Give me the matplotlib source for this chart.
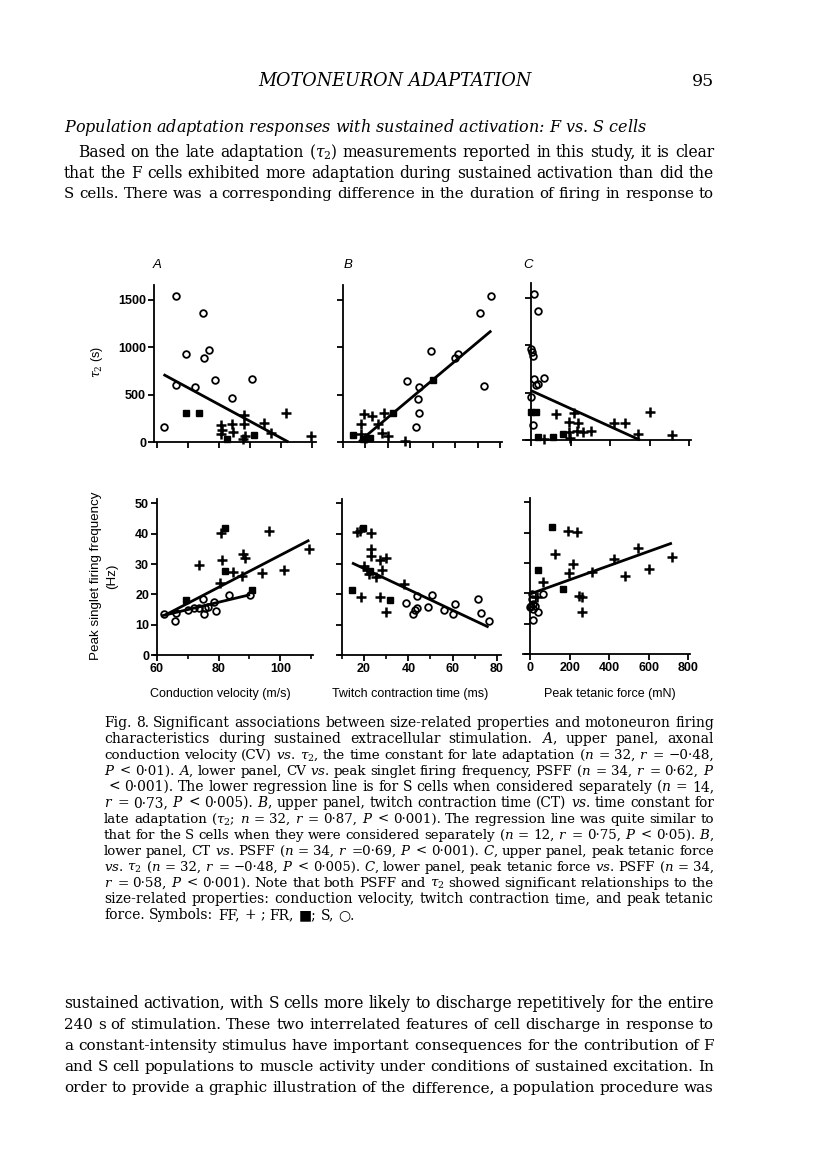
import matplotlib
matplotlib.use("Agg")
import matplotlib.pyplot as plt

W, H = 816, 1169
plt.rcParams['font.family'] = ['DejaVu Serif', 'DejaVu Sans']
plt.rcParams['mathtext.fontset'] = 'dejavuserif'

# ---- data ----
# upper row: tau2 (s); lower row: peak singlet firing frequency (Hz)
# FF = crosses, FR = filled squares, S = open circles

# A upper: conduction velocity (m/s) vs tau2
a_up_ff_x = [80.5, 84.1, 80.5, 84.5, 88.1, 88.2, 88.5, 94.5, 96.7, 101.6, 109.8, 81.1, 87.9]
a_up_ff_y = [176, 191, 88, 106, 286, 194, 60, 205, 95, 307, 67, 124, 35]
a_up_fr_x = [69.4, 73.7, 82.5, 91.2]
a_up_fr_y = [304, 304, 35, 74]
a_up_s_x = [62.1, 66.2, 66.2, 69.4, 72.2, 75.0, 75.3, 76.9, 78.6, 84.1, 90.8]
a_up_s_y = [159, 1546, 597, 925, 582, 1359, 890, 967, 650, 466, 664]
a_up_fit_x = [62.1, 102.4]
a_up_fit_y = [713, 0]

# B upper: twitch contraction time (ms) vs tau2
b_up_ff_x = [19.3, 23.1, 28.4, 18.2, 25.7, 18.1, 27.2, 29.9, 37.6, 20.4]
b_up_ff_y = [293, 275, 304, 187, 187, 81, 99, 64, 11, 46]
b_up_fr_x = [14.5, 32.1, 50.3, 21.9, 19.0]
b_up_fr_y = [71, 304, 660, 39, 28]
b_up_s_x = [76.1, 71.2, 49.1, 60.0, 61.2, 38.7, 44.0, 43.6, 44.0, 42.4, 72.7]
b_up_s_y = [1546, 1362, 963, 886, 925, 646, 582, 459, 304, 159, 593]
b_up_fit_x = [17.2, 76.1]
b_up_fit_y = [4, 1175]

# C upper: peak tetanic force (mN) vs tau2
c_up_ff_x = [128, 218, 193, 240, 235, 262, 304, 190, 198, 64, 418, 475, 600, 544, 716]
c_up_ff_y = [275, 282, 194, 180, 99, 81, 99, 81, 21, 11, 177, 180, 300, 64, 56]
c_up_fr_x = [0, 27, 35, 109, 161]
c_up_fr_y = [300, 300, 35, 35, 64]
c_up_s_x = [15, 37, 0, 5, 10, 15, 64, 24, 35, 2, 8]
c_up_s_y = [1546, 1359, 964, 928, 883, 646, 657, 579, 593, 459, 159]
c_up_fit_x = [0, 551]
c_up_fit_y = [522, 0]

# A lower: conduction velocity vs PSFF
a_lo_ff_x = [73.5, 80.8, 81.2, 80.5, 84.8, 87.8, 88.7, 87.6, 94.1, 96.2, 101.3, 109.4]
a_lo_ff_y = [29.6, 40.1, 31.3, 23.6, 27.3, 33.3, 31.9, 26.1, 26.9, 41.0, 28.0, 35.1]
a_lo_fr_x = [69.3, 82.1, 82.1, 90.8]
a_lo_fr_y = [18.1, 42.0, 27.8, 21.4]
a_lo_s_x = [62.2, 65.8, 66.3, 70.1, 71.9, 73.6, 74.9, 75.1, 75.7, 76.6, 78.4, 79.2, 83.5, 90.2]
a_lo_s_y = [13.4, 11.1, 14.0, 14.8, 15.6, 15.4, 18.6, 13.5, 15.5, 15.9, 17.4, 14.5, 19.7, 19.7]
a_lo_fit_x = [62.5, 109.4]
a_lo_fit_y = [13.1, 37.9]
a_lo_sfit_x = [61.4, 90.2]
a_lo_sfit_y = [12.9, 19.9]

# B lower: twitch contraction time vs PSFF
b_lo_ff_x = [16.8, 18.3, 23.3, 23.3, 23.2, 27.1, 30.1, 19.8, 28.1, 22.1, 25.6, 37.9, 18.6, 27.4, 29.8, 21.4]
b_lo_ff_y = [40.5, 41.0, 40.2, 35.0, 32.6, 31.2, 32.1, 29.3, 27.9, 26.6, 25.8, 23.4, 19.3, 19.0, 14.1, 27.9]
b_lo_fr_x = [14.7, 19.5, 31.9, 22.9]
b_lo_fr_y = [21.4, 41.8, 18.2, 27.7]
b_lo_s_x = [39.1, 43.9, 42.1, 43.2, 43.9, 48.9, 50.7, 56.2, 60.2, 61.2, 71.4, 72.9, 76.2]
b_lo_s_y = [17.3, 19.6, 13.6, 14.7, 15.4, 15.7, 19.7, 14.8, 13.6, 16.8, 18.6, 13.9, 11.1]
b_lo_fit_x = [14.6, 76.2]
b_lo_fit_y = [30.4, 9.2]

# C lower: peak tetanic force vs PSFF
c_lo_ff_x = [194, 240, 127, 219, 199, 64, 312, 425, 544, 478, 603, 717, 248, 265, 263, 37]
c_lo_ff_y = [40.7, 40.2, 33.0, 29.6, 26.7, 23.6, 27.2, 31.2, 35.0, 25.8, 27.9, 32.0, 19.2, 18.9, 14.0, 18.7]
c_lo_fr_x = [113, 39, 169]
c_lo_fr_y = [41.8, 27.6, 21.6]
c_lo_s_x = [8, 68, 3, 0, 17, 25, 42, 17, 8, 17]
c_lo_s_y = [19.8, 19.8, 16.0, 15.4, 16.5, 15.7, 14.0, 11.3, 18.2, 14.9]
c_lo_fit_x = [0, 717]
c_lo_fit_y = [19.8, 36.6]

tau_ticks = [0, 500, 1000, 1500]
freq_ticks = [0, 10, 20, 30, 40, 50]

# ---- page text ----
body_top = [
    "Based on the late adaptation ($\\tau_2$) measurements reported in this study, it is clear",
    "that the F cells exhibited more adaptation during sustained activation than did the",
    "S cells. There was a corresponding difference in the duration of firing in response to",
]
body_bottom = [
    "sustained activation, with S cells more likely to discharge repetitively for the entire",
    "240 s of stimulation. These two interrelated features of cell discharge in response to",
    "a constant-intensity stimulus have important consequences for the contribution of F",
    "and S cell populations to muscle activity under conditions of sustained excitation. In",
    "order to provide a graphic illustration of the difference, a population procedure was",
]
caption = [
    "Fig. 8. Significant associations between size-related properties and motoneuron firing",
    "characteristics during sustained extracellular stimulation. $\\mathit{A}$, upper panel, axonal",
    "conduction velocity (CV) $\\mathit{vs}$. $\\tau_2$, the time constant for late adaptation ($n$ = 32, $r$ = \u22120\u00b748,",
    "$P$ < 0\u00b701). $\\mathit{A}$, lower panel, CV $\\mathit{vs}$. peak singlet firing frequency, PSFF ($n$ = 34, $r$ = 0\u00b762, $P$",
    "< 0\u00b7001). The lower regression line is for S cells when considered separately ($n$ = 14,",
    "$r$ = 0\u00b773, $P$ < 0\u00b7005). $\\mathit{B}$, upper panel, twitch contraction time (CT) $\\mathit{vs}$. time constant for",
    "late adaptation ($\\tau_2$; $n$ = 32, $r$ = 0\u00b787, $P$ < 0\u00b7001). The regression line was quite similar to",
    "that for the S cells when they were considered separately ($n$ = 12, $r$ = 0\u00b775, $P$ < 0\u00b705). $\\mathit{B}$,",
    "lower panel, CT $\\mathit{vs}$. PSFF ($n$ = 34, $r$ =0\u00b769, $P$ < 0\u00b7001). $\\mathit{C}$, upper panel, peak tetanic force",
    "$\\mathit{vs}$. $\\tau_2$ ($n$ = 32, $r$ = \u22120\u00b748, $P$ < 0\u00b7005). $\\mathit{C}$, lower panel, peak tetanic force $\\mathit{vs}$. PSFF ($n$ = 34,",
    "$r$ = 0\u00b758, $P$ < 0\u00b7001). Note that both PSFF and $\\tau_2$ showed significant relationships to the",
    "size-related properties: conduction velocity, twitch contraction time, and peak tetanic",
    "force. Symbols: FF, + ; FR, \u25a0; S, \u25cb.",
]

fig = plt.figure(figsize=(W / 100, H / 100), dpi=100)
fig.patch.set_facecolor('white')
renderer = fig.canvas.get_renderer()


def fx(x):
    return x / W


def fy(y):
    return 1 - y / H


def page_line(text, x0, x1, y, size, justify=True, min_gap=0.3, **kw):
    # place words one by one so the line is justified between x0 and x1;
    # shrink the type a little when the words would sit too close
    words = text.split(' ')
    arts = [fig.text(0, 0, w, fontsize=size, va='baseline', ha='left', **kw) for w in words]
    while True:
        widths = [a.get_window_extent(renderer).width for a in arts]
        em = size * 100 / 72
        if not justify or len(words) < 2:
            gap = 0.33 * em
            break
        gap = (x1 - x0 - sum(widths)) / (len(words) - 1)
        if gap >= min_gap * em:
            break
        size *= 0.99
        for a in arts:
            a.set_fontsize(size)
    x = x0
    for a, w in zip(arts, widths):
        a.set_position((fx(x), fy(y)))
        x += w + gap


def fit_text(text, x0, x1, y, size, **kw):
    t = fig.text(fx(x0), fy(y), text, fontsize=size, va='baseline', ha='left', **kw)
    w = t.get_window_extent(renderer).width
    t.set_fontsize(size * (x1 - x0) / w)


fit_text("MOTONEURON ADAPTATION", 258, 530, 86, 12, style='italic')
fig.text(fx(714), fy(86), "95", fontsize=12.5, ha='right', va='baseline')
fit_text("Population adaptation responses with sustained activation: F $\\mathit{vs}$. S cells",
         64, 648, 132, 11, style='italic')

body_size = 11.3
for i, line in enumerate(body_top):
    page_line(line, 78 if i == 0 else 64, 714, 157 + 20.5 * i, body_size)
for i, line in enumerate(body_bottom):
    page_line(line, 64, 714, 1008 + 21 * i, body_size)

cap_size = 10.0
for i, line in enumerate(caption):
    x0 = 104 if i != 4 else 108
    page_line(line, x0, 714, 727 + 16 * i, cap_size, justify=(i < len(caption) - 1))

# ---- panels ----
sans = dict(family='Liberation Sans', weight='bold', size=9)
label_font = dict(family='Liberation Sans', size=9)


def panel(l, r, b, xlim, ylim, px_per_y, spine_x):
    t = b - (ylim[1] - ylim[0]) * px_per_y
    ax = fig.add_axes([fx(l), fy(b), (r - l) / W, (b - t) / H])
    ax.set_xlim(xlim)
    ax.set_ylim(ylim)
    ax.patch.set_alpha(0)
    for side in ('top', 'right'):
        ax.spines[side].set_visible(False)
    ax.spines['left'].set_position(('data', spine_x))
    for side in ('left', 'bottom'):
        ax.spines[side].set_linewidth(1.3)
    ax.tick_params(direction='out', length=4.5, width=1.3, pad=1.2, colors='black')
    ax.tick_params(which='minor', direction='out', length=3, width=1.2)
    return ax


def draw(ax, ffx, ffy, frx, fry, sx, sy, fits):
    for xs, ys in fits:
        ax.plot(xs, ys, color='black', lw=2.0, solid_capstyle='butt', clip_on=False)
    ax.plot(ffx, ffy, ls='none', marker='+', ms=6.5, mew=1.8, color='black', clip_on=False)
    ax.plot(frx, fry, ls='none', marker='s', ms=5, color='black', clip_on=False)
    ax.plot(sx, sy, ls='none', marker='o', ms=4.8, mfc='none', mec='black', mew=1.3, clip_on=False)


tau_px = 0.09467
frq_px = 3.03

ax = panel(154, 316, 442, (59.03, 111.3), (0, 1658), tau_px, 59.03)
draw(ax, a_up_ff_x, a_up_ff_y, a_up_fr_x, a_up_fr_y, a_up_s_x, a_up_s_y, [(a_up_fit_x, a_up_fit_y)])
ax.set_xticks(range(60, 111, 10), [])
ax.set_yticks(tau_ticks, [str(v) for v in tau_ticks], **sans)

ax = panel(342, 502, 442, (9.55, 80.9), (0, 1658), tau_px, 10)
draw(ax, b_up_ff_x, b_up_ff_y, b_up_fr_x, b_up_fr_y, b_up_s_x, b_up_s_y, [(b_up_fit_x, b_up_fit_y)])
ax.set_xticks(range(10, 81, 10), [])
ax.set_yticks(tau_ticks, [])

ax = panel(523, 691, 440, (-40.5, 810), (0, 1658), tau_px, 0)
draw(ax, c_up_ff_x, c_up_ff_y, c_up_fr_x, c_up_fr_y, c_up_s_x, c_up_s_y, [(c_up_fit_x, c_up_fit_y)])
ax.set_xticks(range(0, 801, 200), [])
ax.set_yticks(tau_ticks, [])

ax = panel(154, 313, 655, (59.03, 110.6), (0, 51.5), frq_px, 60)
draw(ax, a_lo_ff_x, a_lo_ff_y, a_lo_fr_x, a_lo_fr_y, a_lo_s_x, a_lo_s_y,
     [(a_lo_fit_x, a_lo_fit_y), (a_lo_sfit_x, a_lo_sfit_y)])
ax.set_xticks([60, 80, 100], ['60', '80', '100'], **sans)
ax.set_xticks([70, 90, 110], minor=True)
ax.set_yticks(freq_ticks, [str(v) for v in freq_ticks], **sans)

ax = panel(339, 501, 655, (8.74, 81.8), (0, 51.5), frq_px, 10)
draw(ax, b_lo_ff_x, b_lo_ff_y, b_lo_fr_x, b_lo_fr_y, b_lo_s_x, b_lo_s_y, [(b_lo_fit_x, b_lo_fit_y)])
ax.set_xticks([20, 40, 60, 80], ['20', '40', '60', '80'], **sans)
ax.set_xticks([10, 30, 50, 70], minor=True)
ax.set_yticks(freq_ticks, [])

ax = panel(523, 690, 654, (-35.4, 808.5), (0, 51.5), frq_px, 0)
draw(ax, c_lo_ff_x, c_lo_ff_y, c_lo_fr_x, c_lo_fr_y, c_lo_s_x, c_lo_s_y, [(c_lo_fit_x, c_lo_fit_y)])
ax.set_xticks(range(0, 801, 200), [str(v) for v in range(0, 801, 200)], **sans)
ax.set_yticks(freq_ticks, [])

# axis titles placed as on the page
for txt, x in (("Conduction velocity (m/s)", 220), ("Twitch contraction time (ms)", 410),
               ("Peak tetanic force (mN)", 610)):
    fig.text(fx(x), fy(694), txt, ha='center', va='center', **label_font)
fig.text(fx(104), fy(576), "Peak singlet firing frequency\n(Hz)", rotation=90, ha='center',
         va='center', linespacing=1.45, family='Liberation Sans', size=9.6)

# panel letters and upper y label
for letter, x in (("A", 157), ("B", 348), ("C", 528)):
    fig.text(fx(x), fy(265), letter, fontsize=9.5, style='italic', family='Liberation Sans',
             ha='center', va='center')
fig.text(fx(97), fy(362), "$\\tau_2$ (s)", rotation=90, ha='center', va='center', **label_font)

fig.savefig("out.png", dpi=100, facecolor='white')
